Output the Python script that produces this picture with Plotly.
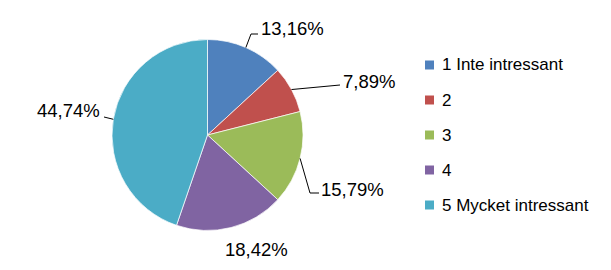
import math
import plotly.graph_objects as go

# ---- data ----
categories = ["1 Inte intressant", "2", "3", "4", "5 Mycket intressant"]
values = [13.16, 7.89, 15.79, 18.42, 44.74]
label_texts = ["13,16%", "7,89%", "15,79%", "18,42%", "44,74%"]
colors = ["#4F81BD", "#C0504D", "#9BBB59", "#8064A2", "#4BACC6"]

# ---- layout constants (pixels) ----
W, H = 611, 270
CX, CY, R = 207.5, 135.0, 95.5
FONT = "Liberation Sans, Arial, sans-serif"
label_pos = [(292, 29), (369, 81), (352, 189), (256, 249), (68, 110)]
# elbow / end points for leader lines (None = no line)
leader_pts = [
    [(251, 34), (258, 34)],
    [(340, 85)],
    [(310, 193), (319, 193)],
    None,
    [(104, 117)],
]
legend_x, legend_y0, legend_dy, sq = 425, 65, 35, 9


def px(x):
    return x / W


def py(y):
    return 1 - y / H


fig = go.Figure(
    go.Pie(
        labels=categories,
        values=values,
        sort=False,
        direction="clockwise",
        rotation=0,
        marker=dict(colors=colors, line=dict(color="white", width=0.7)),
        textinfo="none",
        hoverinfo="label+percent",
        showlegend=False,
        domain=dict(x=[px(CX - R), px(CX + R)], y=[py(CY + R), py(CY - R)]),
    )
)

total = sum(values)
cum = 0.0
annotations = []
shapes = []
for i, v in enumerate(values):
    mid = (cum + v / 2) / total * 2 * math.pi
    cum += v
    rx = CX + R * math.sin(mid)
    ry = CY - R * math.cos(mid)
    tx, ty = label_pos[i]
    annotations.append(dict(
        x=px(tx), y=py(ty), xref="paper", yref="paper",
        text=label_texts[i], showarrow=False,
        xanchor="center", yanchor="middle",
        font=dict(family=FONT, size=18.5, color="#000000"),
    ))
    if leader_pts[i]:
        pts = [(rx, ry)] + leader_pts[i]
        path = "M " + " L ".join(f"{px(a)},{py(b)}" for a, b in pts)
        shapes.append(dict(type="path", xref="paper", yref="paper", path=path,
                           line=dict(color="#000000", width=1)))

# manual legend
for i, (cat, col) in enumerate(zip(categories, colors)):
    yc = legend_y0 + i * legend_dy
    shapes.append(dict(type="rect", xref="paper", yref="paper",
                       x0=px(legend_x), x1=px(legend_x + sq),
                       y0=py(yc - sq / 2), y1=py(yc + sq / 2),
                       fillcolor=col, line=dict(width=0)))
    annotations.append(dict(
        x=px(legend_x + 15), y=py(yc), xref="paper", yref="paper",
        text=cat, showarrow=False, xanchor="left", yanchor="middle",
        font=dict(family=FONT, size=17, color="#000000"),
    ))

fig.update_layout(
    width=W, height=H,
    margin=dict(l=0, r=0, t=0, b=0),
    paper_bgcolor="white", plot_bgcolor="white",
    annotations=annotations, shapes=shapes,
)

fig.write_html("out.html")
